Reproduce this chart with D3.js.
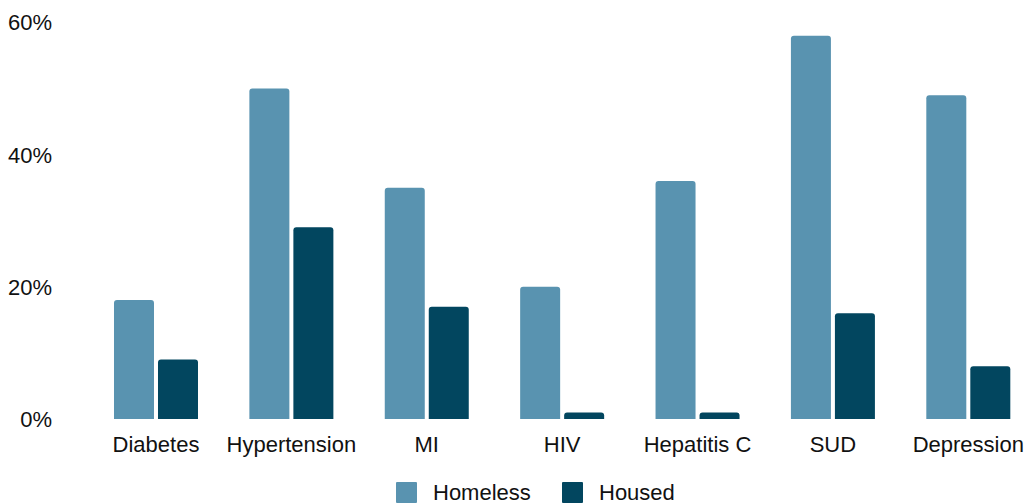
<!DOCTYPE html>
<html><head><meta charset="utf-8">
<script src="https://cdn.jsdelivr.net/npm/d3@7"></script>
<style>body{margin:0;background:#fff}svg{display:block}text{font-family:"Liberation Sans",Arial,sans-serif;fill:#111}</style>
</head><body>
<svg id="c" width="1025" height="503"></svg>
<script>
const categories = ["Diabetes","Hypertension","MI","HIV","Hepatitis C","SUD","Depression"];
const homeless = [18,50,35,20,36,58,49];
const housed = [9,29,17,1,1,16,8];
const seriesNames = ["Homeless","Housed"];
const seriesColors = ["#5993b0","#02465f"];
const yTicks = [0,20,40,60];

const svg = d3.select("#c");
const x0 = d3.scaleBand().domain(categories).range([88.3,1036]).padding(0);
const x1 = d3.scaleBand().domain(seriesNames).range([-42,42]).paddingInner(0.0909).paddingOuter(0);
const y = d3.scaleLinear().domain([0,60]).range([419,22.5]);

const data = categories.map((c,i)=>({c, vals:[homeless[i],housed[i]]}));
function barPath(x,w,y0,y1,r){
  r=Math.min(r,(y0-y1)/2,w/2);
  return `M${x},${y0}V${y1+r}Q${x},${y1} ${x+r},${y1}H${x+w-r}Q${x+w},${y1} ${x+w},${y1+r}V${y0}Z`;
}
const g = svg.append("g");
data.forEach(d=>{
  const cx = x0(d.c)+x0.bandwidth()/2;
  seriesNames.forEach((s,j)=>{
    g.append("path").attr("d",barPath(cx+x1(s),x1.bandwidth(),y(0),y(d.vals[j]),3)).attr("fill",seriesColors[j]);
  });
});
// y axis labels
svg.append("g").selectAll("text").data(yTicks).join("text")
  .attr("x",52).attr("y",d=>y(d)).attr("dy","0.36em").attr("text-anchor","end")
  .attr("font-size",22).text(d=>d+"%");
// x labels
svg.append("g").selectAll("text").data(categories).join("text")
  .attr("x",d=>x0(d)+x0.bandwidth()/2).attr("y",444).attr("dy","0.36em").attr("text-anchor","middle")
  .attr("font-size",22).text(d=>d);
// legend
const leg = svg.append("g");
const legX=[396,562];
seriesNames.forEach((s,j)=>{
  leg.append("rect").attr("x",legX[j]).attr("y",482).attr("width",21).attr("height",21).attr("fill",seriesColors[j]).attr("rx",1);
  leg.append("text").attr("x",legX[j]+37).attr("y",492).attr("dy","0.36em").attr("font-size",22).text(s);
});
</script>
</body></html>
